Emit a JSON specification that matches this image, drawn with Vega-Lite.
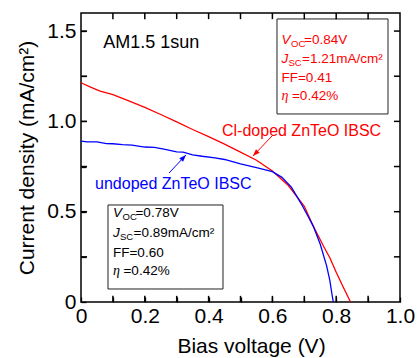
{
  "$schema": "https://vega.github.io/schema/vega-lite/v6.json",
  "width": 319,
  "height": 289,
  "autosize": {"type": "none"},
  "padding": {"left": 81, "top": 13, "right": 18, "bottom": 56},
  "background": "white",
  "config": {
    "view": {"stroke": "black", "strokeWidth": 1.5},
    "font": "Liberation Sans",
    "axis": {
      "grid": false,
      "ticks": true,
      "domain": false,
      "offset": -5,
      "tickColor": "#000000",
      "tickWidth": 1.3,
      "tickSize": 5,
      "labelColor": "black",
      "titleColor": "black",
      "labelFont": "Liberation Sans",
      "titleFont": "Liberation Sans",
      "titleFontWeight": "normal"
    }
  },
  "datasets": {
    "curves": [
      {"s": "red", "x": 0.0, "y": 1.214},
      {"s": "red", "x": 0.03, "y": 1.19},
      {"s": "red", "x": 0.06, "y": 1.168},
      {"s": "red", "x": 0.1, "y": 1.148},
      {"s": "red", "x": 0.15, "y": 1.113},
      {"s": "red", "x": 0.2, "y": 1.078},
      {"s": "red", "x": 0.25, "y": 1.038},
      {"s": "red", "x": 0.3, "y": 0.997},
      {"s": "red", "x": 0.35, "y": 0.955},
      {"s": "red", "x": 0.4, "y": 0.916},
      {"s": "red", "x": 0.45, "y": 0.874},
      {"s": "red", "x": 0.5, "y": 0.83},
      {"s": "red", "x": 0.55, "y": 0.785},
      {"s": "red", "x": 0.6, "y": 0.725},
      {"s": "red", "x": 0.65, "y": 0.645},
      {"s": "red", "x": 0.7, "y": 0.53},
      {"s": "red", "x": 0.728, "y": 0.42},
      {"s": "red", "x": 0.76, "y": 0.31},
      {"s": "red", "x": 0.78, "y": 0.245},
      {"s": "red", "x": 0.8, "y": 0.165},
      {"s": "red", "x": 0.82, "y": 0.09},
      {"s": "red", "x": 0.845, "y": 0.0},
      {"s": "blue", "x": 0.0, "y": 0.891},
      {"s": "blue", "x": 0.02, "y": 0.887},
      {"s": "blue", "x": 0.05, "y": 0.886},
      {"s": "blue", "x": 0.08, "y": 0.877},
      {"s": "blue", "x": 0.1, "y": 0.876},
      {"s": "blue", "x": 0.13, "y": 0.871},
      {"s": "blue", "x": 0.16, "y": 0.869},
      {"s": "blue", "x": 0.2, "y": 0.858},
      {"s": "blue", "x": 0.23, "y": 0.856},
      {"s": "blue", "x": 0.26, "y": 0.846},
      {"s": "blue", "x": 0.3, "y": 0.831},
      {"s": "blue", "x": 0.32, "y": 0.83},
      {"s": "blue", "x": 0.35, "y": 0.815},
      {"s": "blue", "x": 0.38, "y": 0.807},
      {"s": "blue", "x": 0.42, "y": 0.798},
      {"s": "blue", "x": 0.45, "y": 0.789},
      {"s": "blue", "x": 0.5, "y": 0.765},
      {"s": "blue", "x": 0.55, "y": 0.744},
      {"s": "blue", "x": 0.6, "y": 0.722},
      {"s": "blue", "x": 0.63, "y": 0.69},
      {"s": "blue", "x": 0.66, "y": 0.635},
      {"s": "blue", "x": 0.69, "y": 0.545},
      {"s": "blue", "x": 0.71, "y": 0.48},
      {"s": "blue", "x": 0.728, "y": 0.42},
      {"s": "blue", "x": 0.75, "y": 0.32},
      {"s": "blue", "x": 0.77, "y": 0.2},
      {"s": "blue", "x": 0.78, "y": 0.12},
      {"s": "blue", "x": 0.787, "y": 0.04},
      {"s": "blue", "x": 0.791, "y": 0.0}
    ],
    "xticks": [{"v": 0.1}, {"v": 0.2}, {"v": 0.3}, {"v": 0.4}, {"v": 0.5}, {"v": 0.6}, {"v": 0.7}, {"v": 0.8}, {"v": 0.9}],
    "yticks": [{"v": 0.25}, {"v": 0.5}, {"v": 0.75}, {"v": 1.0}, {"v": 1.25}, {"v": 1.5}],
    "boxes": [
      {"g": "red", "x1": 0.6144, "x2": 0.9624, "y1": 1.041, "y2": 1.567},
      {"g": "black", "x1": 0.0846, "x2": 0.4451, "y1": 0.072, "y2": 0.5371}
    ],
    "frag": [
      {"g": "red", "k": "it", "x": 0.6285, "y": 1.4286, "t": "V"},
      {"g": "red", "k": "sub", "x": 0.6583, "y": 1.412, "t": "OC"},
      {"g": "red", "k": "n", "x": 0.6991, "y": 1.4286, "t": "=0.84V"},
      {"g": "red", "k": "it", "x": 0.6285, "y": 1.3234, "t": "J"},
      {"g": "red", "k": "sub", "x": 0.6505, "y": 1.3068, "t": "SC"},
      {"g": "red", "k": "n", "x": 0.6928, "y": 1.3234, "t": "=1.21mA/cm²"},
      {"g": "red", "k": "n", "x": 0.6285, "y": 1.2182, "t": "FF=0.41"},
      {"g": "red", "k": "eta", "x": 0.6285, "y": 1.1185, "t": "η"},
      {"g": "red", "k": "n", "x": 0.6614, "y": 1.1185, "t": "=0.42%"},
      {"g": "black", "k": "it", "x": 0.1003, "y": 0.4707, "t": "V"},
      {"g": "black", "k": "sub", "x": 0.1301, "y": 0.454, "t": "OC"},
      {"g": "black", "k": "n", "x": 0.1708, "y": 0.4707, "t": "=0.78V"},
      {"g": "black", "k": "it", "x": 0.1003, "y": 0.3599, "t": "J"},
      {"g": "black", "k": "sub", "x": 0.1223, "y": 0.3433, "t": "SC"},
      {"g": "black", "k": "n", "x": 0.1646, "y": 0.3599, "t": "=0.89mA/cm²"},
      {"g": "black", "k": "n", "x": 0.1003, "y": 0.2492, "t": "FF=0.60"},
      {"g": "black", "k": "eta", "x": 0.1003, "y": 0.1495, "t": "η"},
      {"g": "black", "k": "n", "x": 0.1332, "y": 0.1495, "t": "=0.42%"}
    ],
    "labels": [
      {"g": "black", "k": "big", "x": 0.07, "y": 1.405, "t": "AM1.5 1sun"},
      {"g": "red", "k": "mid", "x": 0.442, "y": 0.921, "t": "Cl-doped ZnTeO IBSC"},
      {"g": "blue", "k": "mid", "x": 0.044, "y": 0.624, "t": "undoped ZnTeO IBSC"}
    ],
    "arrows": [
      {"g": "red", "x1": 0.602, "y1": 0.925, "x2": 0.539, "y2": 0.808},
      {"g": "blue", "x1": 0.276, "y1": 0.714, "x2": 0.329, "y2": 0.814}
    ]
  },
  "resolve": {"axis": {"x": "independent", "y": "independent"}},
  "layer": [
    {
      "data": {"name": "boxes"},
      "mark": {"type": "rect", "fill": "white", "stroke": "#222222", "strokeWidth": 1},
      "encoding": {
        "x": {"field": "x1", "type": "quantitative", "scale": {"domain": [0, 1], "nice": false}, "axis": null},
        "x2": {"field": "x2"},
        "y": {"field": "y1", "type": "quantitative", "scale": {"domain": [0, 1.6], "nice": false}, "axis": null},
        "y2": {"field": "y2"}
      }
    },
    {
      "data": {"name": "xticks"},
      "mark": {"type": "rule", "color": "#000000", "strokeWidth": 1.5},
      "encoding": {
        "x": {"field": "v", "type": "quantitative", "axis": null},
        "y": {"datum": 0, "type": "quantitative", "axis": null},
        "y2": {"datum": 0.034}
      }
    },
    {
      "data": {"name": "xticks"},
      "mark": {"type": "rule", "color": "#000000", "strokeWidth": 1.5},
      "encoding": {
        "x": {"field": "v", "type": "quantitative", "axis": null},
        "y": {"datum": 1.6, "type": "quantitative", "axis": null},
        "y2": {"datum": 1.566}
      }
    },
    {
      "data": {"name": "yticks"},
      "mark": {"type": "rule", "color": "#000000", "strokeWidth": 1.5},
      "encoding": {
        "y": {"field": "v", "type": "quantitative", "axis": null},
        "x": {"datum": 0, "type": "quantitative", "axis": null},
        "x2": {"datum": 0.019}
      }
    },
    {
      "data": {"name": "yticks"},
      "mark": {"type": "rule", "color": "#000000", "strokeWidth": 1.5},
      "encoding": {
        "y": {"field": "v", "type": "quantitative", "axis": null},
        "x": {"datum": 1, "type": "quantitative", "axis": null},
        "x2": {"datum": 0.981}
      }
    },
    {
      "data": {"name": "curves"},
      "mark": {"type": "line", "strokeWidth": 1.3},
      "encoding": {
        "x": {"field": "x", "type": "quantitative", "scale": {"domain": [0, 1], "nice": false},
          "axis": {"orient": "bottom", "values": [0, 0.1, 0.2, 0.3, 0.4, 0.5, 0.6, 0.7, 0.8, 0.9, 1.0],
            "labelExpr": "round(datum.value*10) % 2 == 0 ? (datum.value == 0 ? '0' : format(datum.value, '.1f')) : ''",
            "labelFontSize": 21, "labelPadding": 3, "labelFlush": false, "labelOverlap": false,
            "title": "Bias voltage (V)", "titleFontSize": 21, "titleX": 170, "titleY": 55, "titleBaseline": "alphabetic"}},
        "y": {"field": "y", "type": "quantitative", "scale": {"domain": [0, 1.6], "nice": false},
          "axis": {"orient": "left", "values": [0, 0.25, 0.5, 0.75, 1.0, 1.25, 1.5],
            "labelExpr": "round(datum.value*100) % 50 == 0 ? (datum.value == 0 ? '0' : format(datum.value, '.1f')) : ''",
            "labelFontSize": 21, "labelPadding": 5, "labelFlush": false, "labelOverlap": false,
            "title": "Current density (mA/cm²)", "titleFontSize": 21, "titlePadding": 9}},
        "color": {"field": "s", "type": "nominal", "scale": {"domain": ["red", "blue", "black"], "range": ["#ff0000", "#0000ff", "#000000"]}, "legend": null},
        "order": {"field": "x", "type": "quantitative"}
      }
    },
    {
      "data": {"name": "arrows"},
      "mark": {"type": "rule", "strokeWidth": 1},
      "encoding": {
        "x": {"field": "x1", "type": "quantitative", "axis": null},
        "y": {"field": "y1", "type": "quantitative", "axis": null},
        "x2": {"field": "x2"},
        "y2": {"field": "y2"},
        "color": {"field": "g", "type": "nominal", "legend": null}
      }
    },
    {
      "data": {"name": "arrows"},
      "transform": [{"filter": "datum.g == 'red'"}],
      "mark": {"type": "point", "shape": "M0,0L0.37,1L-0.37,1Z", "filled": true, "size": 196, "angle": 224, "opacity": 1},
      "encoding": {
        "x": {"field": "x2", "type": "quantitative", "axis": null},
        "y": {"field": "y2", "type": "quantitative", "axis": null},
        "color": {"field": "g", "type": "nominal", "legend": null}
      }
    },
    {
      "data": {"name": "arrows"},
      "transform": [{"filter": "datum.g == 'blue'"}],
      "mark": {"type": "point", "shape": "M0,0L0.37,1L-0.37,1Z", "filled": true, "size": 196, "angle": 43, "opacity": 1},
      "encoding": {
        "x": {"field": "x2", "type": "quantitative", "axis": null},
        "y": {"field": "y2", "type": "quantitative", "axis": null},
        "color": {"field": "g", "type": "nominal", "legend": null}
      }
    },
    {
      "data": {"name": "frag"},
      "transform": [{"filter": "datum.k == 'it'"}],
      "mark": {"type": "text", "align": "left", "baseline": "alphabetic", "fontSize": 13.5, "fontStyle": "italic"},
      "encoding": {
        "x": {"field": "x", "type": "quantitative", "axis": null},
        "y": {"field": "y", "type": "quantitative", "axis": null},
        "text": {"field": "t"},
        "color": {"field": "g", "type": "nominal", "legend": null}
      }
    },
    {
      "data": {"name": "frag"},
      "transform": [{"filter": "datum.k == 'eta'"}],
      "mark": {"type": "text", "align": "left", "baseline": "alphabetic", "fontSize": 14, "fontStyle": "italic", "font": "Liberation Serif"},
      "encoding": {
        "x": {"field": "x", "type": "quantitative", "axis": null},
        "y": {"field": "y", "type": "quantitative", "axis": null},
        "text": {"field": "t"},
        "color": {"field": "g", "type": "nominal", "legend": null}
      }
    },
    {
      "data": {"name": "frag"},
      "transform": [{"filter": "datum.k == 'sub'"}],
      "mark": {"type": "text", "align": "left", "baseline": "alphabetic", "fontSize": 9.5},
      "encoding": {
        "x": {"field": "x", "type": "quantitative", "axis": null},
        "y": {"field": "y", "type": "quantitative", "axis": null},
        "text": {"field": "t"},
        "color": {"field": "g", "type": "nominal", "legend": null}
      }
    },
    {
      "data": {"name": "frag"},
      "transform": [{"filter": "datum.k == 'n'"}],
      "mark": {"type": "text", "align": "left", "baseline": "alphabetic", "fontSize": 13.5},
      "encoding": {
        "x": {"field": "x", "type": "quantitative", "axis": null},
        "y": {"field": "y", "type": "quantitative", "axis": null},
        "text": {"field": "t"},
        "color": {"field": "g", "type": "nominal", "legend": null}
      }
    },
    {
      "data": {"name": "labels"},
      "transform": [{"filter": "datum.k == 'big'"}],
      "mark": {"type": "text", "align": "left", "baseline": "alphabetic", "fontSize": 18},
      "encoding": {
        "x": {"field": "x", "type": "quantitative", "axis": null},
        "y": {"field": "y", "type": "quantitative", "axis": null},
        "text": {"field": "t"},
        "color": {"field": "g", "type": "nominal", "legend": null}
      }
    },
    {
      "data": {"name": "labels"},
      "transform": [{"filter": "datum.k == 'mid'"}],
      "mark": {"type": "text", "align": "left", "baseline": "alphabetic", "fontSize": 16},
      "encoding": {
        "x": {"field": "x", "type": "quantitative", "axis": null},
        "y": {"field": "y", "type": "quantitative", "axis": null},
        "text": {"field": "t"},
        "color": {"field": "g", "type": "nominal", "legend": null}
      }
    }
  ]
}
